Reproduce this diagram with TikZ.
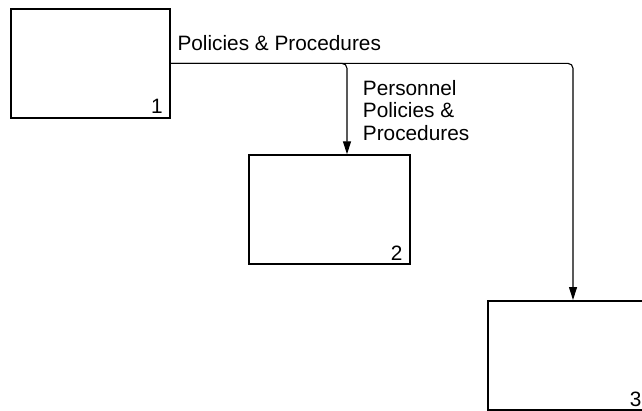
\documentclass[tikz,border=0pt]{standalone}
\usepackage{fontspec}
\setmainfont{Liberation Sans}
\usetikzlibrary{arrows.meta}
\tikzset{
  procbox/.style={draw, line width=2pt, minimum width=160.4pt, minimum height=109pt, inner sep=0pt, outer sep=1pt},
  conn/.style={line width=1.1pt, rounded corners=5pt, -{Triangle[length=13pt,width=8pt]}},
  lbl/.style={inner sep=0pt, font=\fontsize{20.8}{22.5}\selectfont},
}
\begin{document}
\begin{tikzpicture}[x=1pt,y=-1pt]
\useasboundingbox (0,0) rectangle (642,410);
\begin{scope}
\clip (0,0) rectangle (642,410);
\node[procbox, minimum width=159pt, minimum height=108.7pt] (b1) at (90.5,63.35) {};
\node[procbox] (b2) at (329.5,209.8) {};
\node[procbox] (b3) at (568.5,355.5) {};
\node[lbl, anchor=base east] (n1) at ([xshift=-8pt,yshift=5pt]b1.south east) {1};
\node[lbl, anchor=base east] (n2) at ([xshift=-8pt,yshift=5pt]b2.south east) {2};
\node[lbl, anchor=base east] (n3) at ([xshift=-8pt,yshift=5pt]b3.south east) {3};
\draw[conn] (b1.east) -| ([xshift=4.5pt]b3.north);
\draw[conn] (b1.east) -| ([xshift=17.5pt]b2.north);
\node[lbl, anchor=base west] (l1) at (177.3,50.7) {Policies \& Procedures};
\node[lbl, anchor=base west, align=left] (l2) at (362.7,140.3) {Personnel\\Policies \&\\Procedures};
\end{scope}
\end{tikzpicture}
\end{document}
